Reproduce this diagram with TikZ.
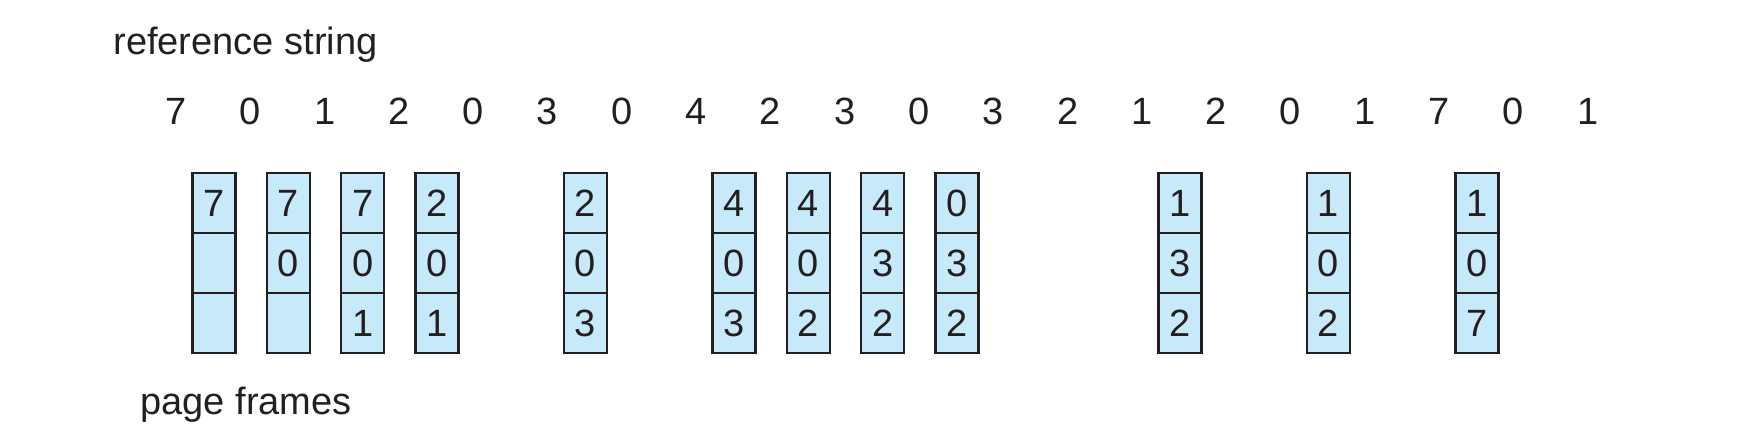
\documentclass[tikz,border=0pt]{standalone}
\usepackage{fontspec}
\setmainfont{Liberation Sans}
\definecolor{framefill}{RGB}{199,234,251}
\definecolor{inkline}{RGB}{35,31,32}

\begin{document}
\begin{tikzpicture}[x=0.5pt,y=-0.5pt,
		every node/.style={font=\fontsize{19}{23}\selectfont, text=inkline},
		pagecell/.style={draw=inkline, fill=framefill, line width=1.2pt,
			minimum width=21.5pt, minimum height=30pt, inner sep=0pt},
		refnum/.style={anchor=base, inner sep=0pt},
		caption/.style={anchor=base west, inner sep=0pt}]
		\useasboundingbox (0,0) rectangle (1762,448);
		% labels
		\node[caption] (refstr) at (113,55) {reference string};
		\node[caption] (frames) at (140,415) {page frames};
		% reference string
		\foreach \r [count=\i from 0] in {7,0,1,2,0,3,0,4,2,3,0,3,2,1,2,0,1,7,0,1}
		{
			\node[refnum] (r\i) at ({176+74.3*\i},125) {\r};
		}
		% page frames after each fault
		\foreach \i/\a/\b/\c in {0/7/{}/{}, 1/7/0/{}, 2/7/0/1, 3/2/0/1, 5/2/0/3,
			7/4/0/3, 8/4/0/2, 9/4/3/2, 10/0/3/2, 13/1/3/2, 15/1/0/2, 17/1/0/7}
		{
			\node[pagecell] (p\i-1) at ({214+74.3*\i},203) {\a};
			\node[pagecell] (p\i-2) at ({214+74.3*\i},263) {\b};
			\node[pagecell] (p\i-3) at ({214+74.3*\i},323) {\c};
		}
	\end{tikzpicture}
\end{document}
